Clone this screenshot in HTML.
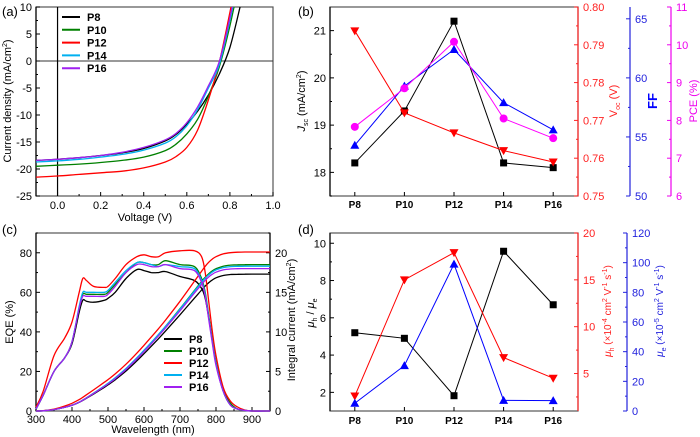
<!DOCTYPE html>
<html><head><meta charset="utf-8"><style>
body{margin:0;background:#fff}
svg{display:block;font-family:"Liberation Sans",Arial,sans-serif}
</style></head><body>
<svg id="s" width="700" height="437" viewBox="0 0 700 437"></svg>
<script>
// ---------- data ----------
const jvV=[-0.1,0,0.1,0.2,0.3,0.4,0.5,0.55,0.6,0.65,0.7,0.75,0.8,0.85];
const jvP8=[-18.4,-18.2,-17.9,-17.5,-17.0,-16.2,-14.8,-13.6,-11.7,-9.3,-6.3,-2.5,2.5,10.5];
const jvP10=[-19.5,-19.3,-19.1,-18.8,-18.4,-17.8,-16.6,-15.4,-13.5,-10.8,-6.5,-1.2,6.5,16];
const jvP12=[-21.5,-21.3,-21.0,-20.7,-20.4,-19.8,-18.7,-17.7,-16.0,-12.8,-7.2,-0.4,9.0,19];
const jvP14=[-18.7,-18.5,-18.2,-17.8,-17.3,-16.5,-15.2,-14.0,-12.0,-9.0,-5.0,-0.8,7.5,17];
const jvP16=[-18.4,-18.2,-17.9,-17.5,-16.9,-16.0,-14.6,-13.4,-11.4,-8.5,-4.6,-0.2,8.0,18];
const cats=["P8","P10","P12","P14","P16"];
const jsc=[18.2,19.3,21.2,18.2,18.1];
const voc=[0.7937,0.772,0.7667,0.762,0.759];
const ff=[54.3,59.3,62.4,57.9,55.6];
const pce=[7.83,8.85,10.08,8.05,7.53];
const wl=[300,320,350,380,400,420,430,440,460,490,500,520,550,580,600,620,640,660,700,740,760,770,780,790,800,820,840,860,880,900,950];
const eqeP8=[1,8,20,27,34,50,56,55.5,55,56,57,60,67,71.5,71,70,70,70.5,68,66,62,57,47,35,24,10,3,1,0.3,0,0];
const eqeP10=[1,8,20,27,35,52,59,59,59,59,60,64,70,75,75,74,74,76,74,73,67,60,48,36,25,11,4,1,0.3,0,0];
const eqeP12=[2,10,28,37,45,60,67,66,63,62.5,63,67,74,78,79,78,78,80,81,81,78,70,55,40,28,12,5,2,0.5,0,0];
const eqeP14=[1,8,20,27,35,53,60,60,60,60,61,65,71,75,75,74,73,74,73,72,66,59,47,35,24,10,3,1,0.3,0,0];
const eqeP16=[1,8,20,27,35,52,58,58,58,58,59,63,70,74,74,73,73,74,72,71,65,58,46,34,23,10,3,1,0.3,0,0];
const jintFinal=[17.3,18.5,20.1,18.3,18.0];
const ratio=[5.2,4.9,1.82,9.57,6.7];
const muH=[2.6,15,17.9,6.7,4.5];
const muE=[5.2,30.6,99,7.2,7];
const names=["P8","P10","P12","P14","P16"];
const colors=["#000","#008000","#f00","#00b0f0","#a020f0"];

// ---------- helpers ----------
const S=document.getElementById('s');const NS="http://www.w3.org/2000/svg";
function el(t,a,p){const e=document.createElementNS(NS,t);for(const k in a)e.setAttribute(k,a[k]);(p||S).appendChild(e);return e;}
function txt(x,y,s,a){const e=el('text',Object.assign({x:x,y:y,'font-size':11},a||{}));e.innerHTML=s;return e;}
function lin(d0,d1,p0,p1){return v=>p0+(v-d0)/(d1-d0)*(p1-p0);}
function smooth(pts){let d="M"+pts[0][0]+","+pts[0][1];for(let i=0;i<pts.length-1;i++){const p0=pts[Math.max(0,i-1)],p1=pts[i],p2=pts[i+1],p3=pts[Math.min(pts.length-1,i+2)];const c1=[p1[0]+(p2[0]-p0[0])/6,p1[1]+(p2[1]-p0[1])/6],c2=[p2[0]-(p3[0]-p1[0])/6,p2[1]-(p3[1]-p1[1])/6];d+=`C${c1[0].toFixed(1)},${c1[1].toFixed(1)} ${c2[0].toFixed(1)},${c2[1].toFixed(1)} ${p2[0].toFixed(1)},${p2[1].toFixed(1)}`;}return d;}
function yAxis(x,sc,ticks,minor,color,side,lblFmt,name){
  const g=el('g',{});
  const r=sc.range;el('line',{x1:x,x2:x,y1:r[0],y2:r[1],stroke:color,'stroke-width':1.2},g);
  const dir=side==='left'?1:-1;
  ticks.forEach(t=>{const y=sc(t);el('line',{x1:x,x2:x+dir*4,y1:y,y2:y,stroke:color},g);
    txt(side==='left'?x-4:x+5,y+4,lblFmt(t),{'text-anchor':side==='left'?'end':'start',fill:color},g);});
  minor.forEach(t=>{const y=sc(t);el('line',{x1:x,x2:x+dir*2,y1:y,y2:y,stroke:color},g);});
  return g;}
function mk(a,b,c,d){const f=lin(a,b,c,d);f.range=[c,d];return f;}
function rng(a,b,s){const r=[];for(let v=a;v<=b+1e-9;v+=s)r.push(+v.toFixed(4));return r;}
function marker(g,type,x,y,c){
  if(type==='sq')el('rect',{x:x-3.5,y:y-3.5,width:7,height:7,fill:c},g);
  else if(type==='up')el('polygon',{points:`${x},${y-4.5} ${x-4.5},${y+3.5} ${x+4.5},${y+3.5}`,fill:c},g);
  else if(type==='dn')el('polygon',{points:`${x},${y+4.5} ${x-4.5},${y-3.5} ${x+4.5},${y-3.5}`,fill:c},g);
  else el('circle',{cx:x,cy:y,r:4,fill:c},g);}
function series(name,xs,vals,sc,type,c){const g=el('g',{});
  const pts=vals.map((v,i)=>[xs(i),sc(v)]);el('polyline',{points:pts.map(p=>p.join(',')).join(' '),fill:'none',stroke:c,'stroke-width':1},g);
  pts.forEach(p=>marker(g,type,p[0],p[1],c));}
function legend(x,y,dy,name){const g=el('g',{});
  names.forEach((n,i)=>{el('line',{x1:x,x2:x+18,y1:y+i*dy,y2:y+i*dy,stroke:colors[i],'stroke-width':2},g);txt(x+25,y+i*dy+4,n,{'font-weight':'bold','font-size':11},g);});}
function clip(id,x,y,w,h){const c=el('clipPath',{id:id});el('rect',{x:x,y:y,width:w,height:h},c);}

// ---------- panel a ----------
(function(){
const L=36,R=273,T=7,B=196;const X=mk(-0.1,1.0,L,R),Y=mk(-25,10,B,T);
clip('ca',L,T,R-L,B-T);
el('rect',{x:L,y:T,width:R-L,height:B-T,fill:'none',stroke:'#555','stroke-width':1.2});
el('line',{x1:L,x2:R,y1:Y(0),y2:Y(0),stroke:'#333'});el('line',{x1:X(0),x2:X(0),y1:T,y2:B,stroke:'#000','stroke-width':1.2});
yAxis(L,Y,rng(-25,10,5),rng(-22.5,7.5,5),'#000','left',t=>t,'y-axis-a');
const gx=el('g',{});
rng(0,1,0.2).forEach(t=>{el('line',{x1:X(t),x2:X(t),y1:B,y2:B-4,stroke:'#000'},gx);txt(X(t),B+13,t.toFixed(1),{'text-anchor':'middle'},gx);});
rng(-0.1,0.9,0.2).forEach(t=>el('line',{x1:X(t),x2:X(t),y1:B,y2:B-2,stroke:'#000'},gx));
const a=txt(145,221,'Voltage (V)',{'text-anchor':'middle'});
const b=txt(0,0,'Current density (mA/cm<tspan font-size="7" dy="-4">2</tspan><tspan dy="4">)</tspan>',{'text-anchor':'middle',transform:'translate(11,101) rotate(-90)'});
[jvP8,jvP10,jvP12,jvP14,jvP16].forEach((d,i)=>{const p=el('path',{d:smooth(d.map((v,j)=>[X(jvV[j]),Y(v)])),fill:'none',stroke:colors[i],'stroke-width':1.3,'clip-path':'url(#ca)'});});
legend(62,17,12.8,'legend-a');
const l=txt(2,16,'(a)',{'font-size':13});
})();

// ---------- panel b ----------
(function(){
const L=330,R=578,T=7,B=196;const X=i=>L+(i+0.5)*(R-L)/5;
el('rect',{x:L,y:T,width:R-L,height:B-T,fill:'none',stroke:'#555','stroke-width':1.2});
const Yj=mk(17.5,21.5,B,T),Yv=mk(0.75,0.80,B,T),Yf=mk(50,66,B,T),Yp=mk(6,11,B,T);
yAxis(L,Yj,[18,19,20,21],[17.5,18.5,19.5,20.5],'#000','left',t=>t,'y-axis-jsc');
yAxis(R,Yv,rng(0.75,0.8,0.01),rng(0.755,0.795,0.01),'#f22','right',t=>t.toFixed(2),'y-axis-voc');
yAxis(630,Yf,[50,55,60,65],[52.5,57.5,62.5],'#22d','right',t=>t,'y-axis-ff');
yAxis(671,Yp,rng(6,11,1),rng(6.5,10.5,1),'#e0e','right',t=>t,'y-axis-pce');
const gx=el('g',{});
cats.forEach((c,i)=>{el('line',{x1:X(i),x2:X(i),y1:B,y2:B-4,stroke:'#000'},gx);txt(X(i),B+12,c,{'text-anchor':'middle','font-weight':'bold','font-size':10},gx);});
series('jsc-series',X,jsc,Yj,'sq','#000');
series('voc-series',X,voc,Yv,'dn','#f00');
series('ff-series',X,ff,Yf,'up','#00f');
series('pce-series',X,pce,Yp,'c','#f0f');
let t=txt(0,0,'<tspan font-style="italic">J</tspan><tspan font-size="7" dy="3">sc</tspan><tspan dy="-3"> (mA/cm</tspan><tspan font-size="7" dy="-4">2</tspan><tspan dy="4">)</tspan>',{'text-anchor':'middle',transform:'translate(305,101) rotate(-90)'});
t=txt(0,0,'V<tspan font-size="7" dy="3">oc</tspan><tspan dy="-3"> (V)</tspan>',{'text-anchor':'middle',fill:'#f22',transform:'translate(617,101) rotate(-90)'});
t=txt(0,0,'FF',{'text-anchor':'middle',fill:'#00f','font-weight':'bold','font-size':13,transform:'translate(657,101) rotate(-90)'});
t=txt(0,0,'PCE (%)',{'text-anchor':'middle',fill:'#e0e',transform:'translate(697,101) rotate(-90)'});
const l=txt(298,16,'(b)',{'font-size':13});
})();

// ---------- panel c ----------
(function(){
const L=36,R=270,T=233,B=411;const X=mk(300,950,L,R),Y=mk(0,90,B,T),Yi=mk(0,22.5,B,T);
el('rect',{x:L,y:T,width:R-L,height:B-T,fill:'none',stroke:'#555','stroke-width':1.2});
yAxis(L,Y,rng(0,80,20),rng(10,90,20),'#000','left',t=>t,'y-axis-eqe');
yAxis(R,Yi,rng(0,20,5),rng(2.5,22.5,5),'#000','right',t=>t,'y-axis-integral');
const gx=el('g',{});
rng(300,900,100).forEach(t=>{el('line',{x1:X(t),x2:X(t),y1:B,y2:B-4,stroke:'#000'},gx);txt(X(t),B+12,t,{'text-anchor':'middle'},gx);});
rng(350,950,100).forEach(t=>el('line',{x1:X(t),x2:X(t),y1:B,y2:B-2,stroke:'#000'},gx));
let t=txt(153,433,'Wavelength (nm)',{'text-anchor':'middle'});
t=txt(0,0,'EQE (%)',{'text-anchor':'middle',transform:'translate(13,322) rotate(-90)'});
t=txt(0,0,'Integral current (mA/cm<tspan font-size="7" dy="-4">2</tspan><tspan dy="4">)</tspan>',{'text-anchor':'middle',transform:'translate(295,320) rotate(-90)'});
[eqeP8,eqeP10,eqeP12,eqeP14,eqeP16].forEach((d,i)=>{
  const p=el('path',{d:smooth(d.map((v,j)=>[X(wl[j]),Y(v)])),fill:'none',stroke:colors[i],'stroke-width':1.3});
  const cum=[0];for(let j=1;j<wl.length;j++)cum.push(cum[j-1]+(d[j]+d[j-1])/2*(wl[j]+wl[j-1])/2*(wl[j]-wl[j-1]));
  const tot=cum[cum.length-1];
  const q=el('path',{d:smooth(cum.map((v,j)=>[X(wl[j]),Yi(v/tot*jintFinal[i])])),fill:'none',stroke:colors[i],'stroke-width':1.3});});
legend(164,339,12,'legend-c');
const l=txt(2,234,'(c)',{'font-size':13});
})();

// ---------- panel d ----------
(function(){
const L=330,R=578,T=233,B=411;const X=i=>L+(i+0.5)*(R-L)/5;
el('rect',{x:L,y:T,width:R-L,height:B-T,fill:'none',stroke:'#555','stroke-width':1.2});
const Yr=mk(1,10.55,B,T),Yh=mk(1,20,B,T),Ye=mk(0,120,B,T);
yAxis(L,Yr,[2,4,6,8,10],[3,5,7,9],'#000','left',t=>t,'y-axis-ratio');
yAxis(R,Yh,[5,10,15,20],[2.5,7.5,12.5,17.5],'#f22','right',t=>t,'y-axis-muh');
yAxis(627,Ye,rng(0,120,20),rng(10,110,20),'#22d','right',t=>t,'y-axis-mue');
const gx=el('g',{});
cats.forEach((c,i)=>{el('line',{x1:X(i),x2:X(i),y1:B,y2:B-4,stroke:'#000'},gx);txt(X(i),B+13,c,{'text-anchor':'middle','font-weight':'bold','font-size':10},gx);});
series('ratio-series',X,ratio,Yr,'sq','#000');
series('muh-series',X,muH,Yh,'dn','#f00');
series('mue-series',X,muE,Ye,'up','#00f');
let t=txt(0,0,'<tspan font-style="italic">μ</tspan><tspan font-size="7" dy="3">h</tspan><tspan dy="-3"> / </tspan><tspan font-style="italic">μ</tspan><tspan font-size="7" dy="3">e</tspan>',{'text-anchor':'middle',transform:'translate(314,313) rotate(-90)'});
t=txt(0,0,'<tspan font-style="italic">μ</tspan><tspan font-size="7" dy="3">h</tspan><tspan dy="-3"> (×10</tspan><tspan font-size="7" dy="-4">-4</tspan><tspan dy="4"> cm</tspan><tspan font-size="7" dy="-4">2</tspan><tspan dy="4"> V</tspan><tspan font-size="7" dy="-4">-1</tspan><tspan dy="4"> s</tspan><tspan font-size="7" dy="-4">-1</tspan><tspan dy="4">)</tspan>',{'text-anchor':'middle',fill:'#f22','font-size':10,transform:'translate(611,311) rotate(-90)'});
t=txt(0,0,'<tspan font-style="italic">μ</tspan><tspan font-size="7" dy="3">e</tspan><tspan dy="-3"> (×10</tspan><tspan font-size="7" dy="-4">-5</tspan><tspan dy="4"> cm</tspan><tspan font-size="7" dy="-4">2</tspan><tspan dy="4"> V</tspan><tspan font-size="7" dy="-4">-1</tspan><tspan dy="4"> s</tspan><tspan font-size="7" dy="-4">-1</tspan><tspan dy="4">)</tspan>',{'text-anchor':'middle',fill:'#22d','font-size':10,transform:'translate(663,311) rotate(-90)'});
const l=txt(298,234,'(d)',{'font-size':13});
})();
</script>
</body></html>
